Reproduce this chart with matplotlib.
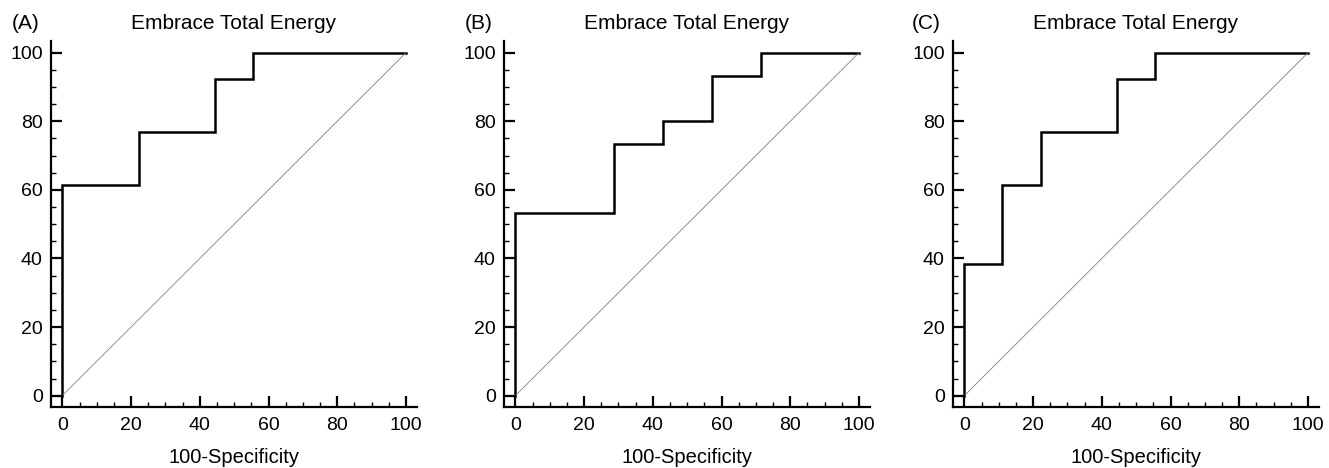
import matplotlib.pyplot as plt
from matplotlib.ticker import MultipleLocator

plt.rcParams['font.family'] = ['Liberation Sans', 'DejaVu Sans']

# ROC step curves (100-Specificity, Sensitivity)
a_x = [0, 0, 22.2, 22.2, 44.4, 44.4, 55.6, 55.6, 100]
a_y = [0, 61.5, 61.5, 76.9, 76.9, 92.3, 92.3, 100, 100]

b_x = [0, 0, 28.6, 28.6, 42.9, 42.9, 57.1, 57.1, 71.4, 71.4, 100]
b_y = [0, 53.3, 53.3, 73.3, 73.3, 80.0, 80.0, 93.3, 93.3, 100, 100]

c_x = [0, 0, 11.1, 11.1, 22.2, 22.2, 44.4, 44.4, 55.6, 55.6, 100]
c_y = [0, 38.5, 38.5, 61.5, 61.5, 76.9, 76.9, 92.3, 92.3, 100, 100]

panels = [("(A)", a_x, a_y), ("(B)", b_x, b_y), ("(C)", c_x, c_y)]
lefts = [51, 504, 953]
tag_x = [12, 465, 912]

fig = plt.figure(figsize=(13.29, 4.68), dpi=100)
W, H = 1329, 468

for (tag, xs, ys), left, tx in zip(panels, lefts, tag_x):
    ax = fig.add_axes([left / W, 1 - 407 / H, 366 / W, 366 / H])
    ax.plot(xs, ys, color='black', lw=1.8, solid_joinstyle='miter')
    ax.plot([0, 100], [0, 100], color='#808080', lw=0.6)
    # small lead-in at zero
    ax.plot([-3.3, 0], [0, 0], color='black', lw=1.5)

    ax.set_xlim(-3.3, 103.2)
    ax.set_ylim(-3.3, 103.4)
    ax.spines['top'].set_visible(False)
    ax.spines['right'].set_visible(False)
    ax.spines['left'].set_linewidth(1.6)
    ax.spines['bottom'].set_linewidth(1.6)

    ax.xaxis.set_major_locator(MultipleLocator(20))
    ax.xaxis.set_minor_locator(MultipleLocator(5))
    ax.yaxis.set_major_locator(MultipleLocator(20))
    ax.yaxis.set_minor_locator(MultipleLocator(5))
    ax.tick_params(which='major', direction='in', length=8, width=1.6,
                   labelsize=14, pad=7)
    ax.tick_params(which='minor', direction='in', length=3.5, width=1.0)
    ax.tick_params(axis='y', which='major', pad=6)

    ax.set_xlabel('100-Specificity', fontsize=14.5, labelpad=10)
    ax.set_title('Embrace Total Energy', fontsize=15, pad=8.5)
    fig.text(tx / W, 1 - 29 / H, tag, fontsize=15, ha='left', va='baseline')

fig.savefig('out.png', dpi=100)
